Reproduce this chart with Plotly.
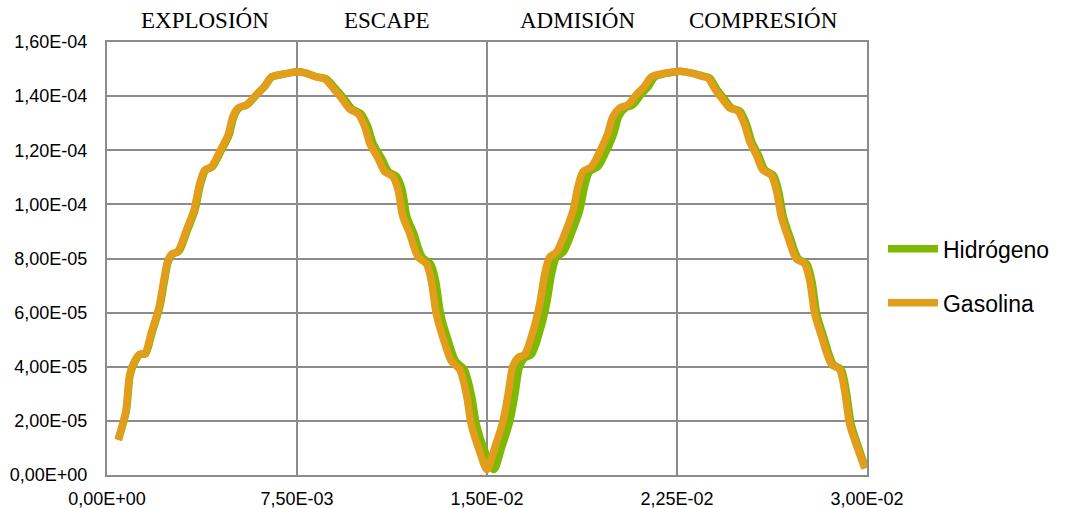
import plotly.graph_objects as go

# ---- data (time in s, value) ----
gasolina_x = [
    0.000435, 0.00074, 0.000896, 0.00109, 0.00129, 0.00149, 0.00175, 0.00205, 0.00224, 0.00238,
    0.00254, 0.00280, 0.00313, 0.00343, 0.00366, 0.00386, 0.00412, 0.00445, 0.00478, 0.00497,
    0.00517, 0.00550, 0.00590, 0.00622, 0.00649, 0.00688, 0.00721, 0.00754,
    0.00780, 0.00826, 0.00859, 0.00892, 0.00925, 0.00958, 0.00991, 0.01017, 0.01037, 0.01070,
    0.01096, 0.01129, 0.01149, 0.01168, 0.01195, 0.01228, 0.01261, 0.01280, 0.01300, 0.01326,
    0.01359, 0.01392, 0.01419, 0.01438, 0.01471, 0.01500,
    0.01530, 0.01563, 0.01583, 0.01602, 0.01622, 0.01649, 0.01682, 0.01708, 0.01728, 0.01747,
    0.01774, 0.01807, 0.01840, 0.01859, 0.01879, 0.01912, 0.01945, 0.01977, 0.01997, 0.02024,
    0.02056, 0.02090, 0.02122, 0.02149, 0.02188, 0.02228, 0.02261,
    0.02313, 0.02346, 0.02372, 0.02399, 0.02431, 0.02458, 0.02491, 0.02517, 0.02537, 0.02563,
    0.02589, 0.02622, 0.02642, 0.02662, 0.02688, 0.02721, 0.02754, 0.02774, 0.02794, 0.02820,
    0.02860, 0.02892, 0.02912, 0.02932, 0.02965, 0.02991,
]
gasolina_y = [
    1.30e-5, 2.35e-5, 3.72e-5, 4.21e-5, 4.46e-5, 4.48e-5, 5.26e-5, 6.19e-5, 7.18e-5, 7.86e-5,
    8.15e-5, 8.27e-5, 9.04e-5, 9.78e-5, 10.77e-5, 11.27e-5, 11.39e-5, 11.95e-5, 12.57e-5, 13.25e-5,
    13.56e-5, 13.68e-5, 14.06e-5, 14.37e-5, 14.71e-5, 14.80e-5, 14.86e-5, 14.90e-5,
    14.86e-5, 14.71e-5, 14.64e-5, 14.30e-5, 13.93e-5, 13.52e-5, 13.35e-5, 12.88e-5, 12.26e-5, 11.70e-5,
    11.21e-5, 11.02e-5, 10.53e-5, 9.54e-5, 8.92e-5, 8.05e-5, 7.80e-5, 7.18e-5, 5.94e-5, 5.08e-5,
    4.21e-5, 3.90e-5, 2.97e-5, 1.86e-5, 0.87e-5, 0.20e-5,
    0.99e-5, 1.98e-5, 2.97e-5, 4.02e-5, 4.33e-5, 4.46e-5, 5.33e-5, 6.32e-5, 7.43e-5, 8.05e-5,
    8.24e-5, 8.92e-5, 9.78e-5, 10.65e-5, 11.21e-5, 11.39e-5, 11.95e-5, 12.63e-5, 13.25e-5, 13.56e-5,
    13.68e-5, 14.06e-5, 14.37e-5, 14.71e-5, 14.82e-5, 14.88e-5, 14.92e-5,
    14.83e-5, 14.74e-5, 14.67e-5, 14.27e-5, 13.87e-5, 13.56e-5, 13.44e-5, 12.94e-5, 12.32e-5, 11.83e-5,
    11.27e-5, 11.08e-5, 10.53e-5, 9.54e-5, 8.79e-5, 7.99e-5, 7.80e-5, 7.18e-5, 5.94e-5, 5.14e-5,
    4.09e-5, 3.90e-5, 3.10e-5, 1.86e-5, 0.93e-5, 0.25e-5,
]

hidrogeno_x = [
    0.00045, 0.00076, 0.00092, 0.00112, 0.00132, 0.00152, 0.00178, 0.00208, 0.00227, 0.00241,
    0.00257, 0.00284, 0.00317, 0.00347, 0.00370, 0.00390, 0.00416, 0.00449, 0.00482, 0.00501,
    0.00521, 0.00553, 0.00592, 0.00624, 0.00651, 0.00689, 0.00722, 0.00755,
    0.00782, 0.00830, 0.00865, 0.00900, 0.00934, 0.00968, 0.01002, 0.01029, 0.01050, 0.01084,
    0.01111, 0.01144, 0.01165, 0.01184, 0.01211, 0.01244, 0.01277, 0.01297, 0.01317, 0.01343,
    0.01376, 0.01410, 0.01438, 0.01458, 0.01492, 0.01527,
    0.01557, 0.01590, 0.01610, 0.01629, 0.01649, 0.01676, 0.01709, 0.01735, 0.01755, 0.01774,
    0.01801, 0.01833, 0.01866, 0.01885, 0.01905, 0.01938, 0.01970, 0.02001, 0.02020, 0.02046,
    0.02076, 0.02108, 0.02138, 0.02162, 0.02197, 0.02233, 0.02263,
    0.02319, 0.02353, 0.02379, 0.02406, 0.02439, 0.02466, 0.02499, 0.02525, 0.02545, 0.02571,
    0.02597, 0.02630, 0.02650, 0.02670, 0.02696, 0.02729, 0.02762, 0.02782, 0.02802, 0.02828,
    0.02867, 0.02898, 0.02918, 0.02938, 0.02970, 0.02995,
]
hidrogeno_y = list(gasolina_y)

series_names = ["Hidrógeno", "Gasolina"]
series_colors = ["#7EB800", "#E29E1A"]

y_tickvals = [0, 2e-5, 4e-5, 6e-5, 8e-5, 1e-4, 1.2e-4, 1.4e-4, 1.6e-4]
y_ticktext = ["0,00E+00", "2,00E-05", "4,00E-05", "6,00E-05", "8,00E-05",
              "1,00E-04", "1,20E-04", "1,40E-04", "1,60E-04"]
x_tickvals = [0, 0.0075, 0.015, 0.0225, 0.03]
x_ticktext = ["0,00E+00", "7,50E-03", "1,50E-02", "2,25E-02", "3,00E-02"]

phase_labels = ["EXPLOSIÓN", "ESCAPE", "ADMISIÓN", "COMPRESIÓN"]
phase_label_x = [0.00386, 0.01104, 0.01856, 0.02590]

fig = go.Figure()
for name, xs, ys, col in [
    (series_names[0], hidrogeno_x, hidrogeno_y, series_colors[0]),
    (series_names[1], gasolina_x, gasolina_y, series_colors[1]),
]:
    fig.add_trace(go.Scatter(
        x=xs, y=ys, name=name, mode="lines",
        line=dict(color=col, width=7.5, shape="spline", smoothing=0.8),
        legendgroup=name,
    ))

grid_col = "#8C8C8C"
fig.update_xaxes(
    range=[0, 0.03], tickvals=x_tickvals, ticktext=x_ticktext,
    showgrid=True, gridcolor=grid_col, gridwidth=2,
    showline=True, linecolor=grid_col, linewidth=2, mirror=True,
    zeroline=False, ticks="", ticklabelstandoff=6, automargin=False,
    tickfont=dict(family="Liberation Sans, Arial", size=18, color="#000000"),
)
fig.update_yaxes(
    range=[0, 1.6e-4], tickvals=y_tickvals, ticktext=y_ticktext,
    showgrid=True, gridcolor=grid_col, gridwidth=2,
    showline=True, linecolor=grid_col, linewidth=2, mirror=True,
    zeroline=False, ticks="", ticklabelstandoff=14, automargin=False,
    tickfont=dict(family="Liberation Sans, Arial", size=18, color="#000000"),
)

for lab, xv in zip(phase_labels, phase_label_x):
    fig.add_annotation(
        x=xv, xref="x", y=1.0, yref="paper", yshift=22,
        text=lab, showarrow=False, xanchor="center", yanchor="middle",
        font=dict(family="Liberation Serif, Times New Roman", size=23, color="#000000"),
    )

fig.update_layout(
    width=1065, height=508,
    margin=dict(l=107, r=198, t=42, b=33, autoexpand=False),
    paper_bgcolor="white", plot_bgcolor="white",
    showlegend=True,
    legend=dict(
        x=1.021, xanchor="left", y=0.46, yanchor="middle",
        font=dict(family="Liberation Sans, Arial", size=23, color="#000000"),
        traceorder="grouped", tracegroupgap=21, itemwidth=50,
        bgcolor="rgba(0,0,0,0)",
    ),
)

fig.write_html("out.html", config={"displayModeBar": False},
               post_script="document.body.style.margin='0';")
